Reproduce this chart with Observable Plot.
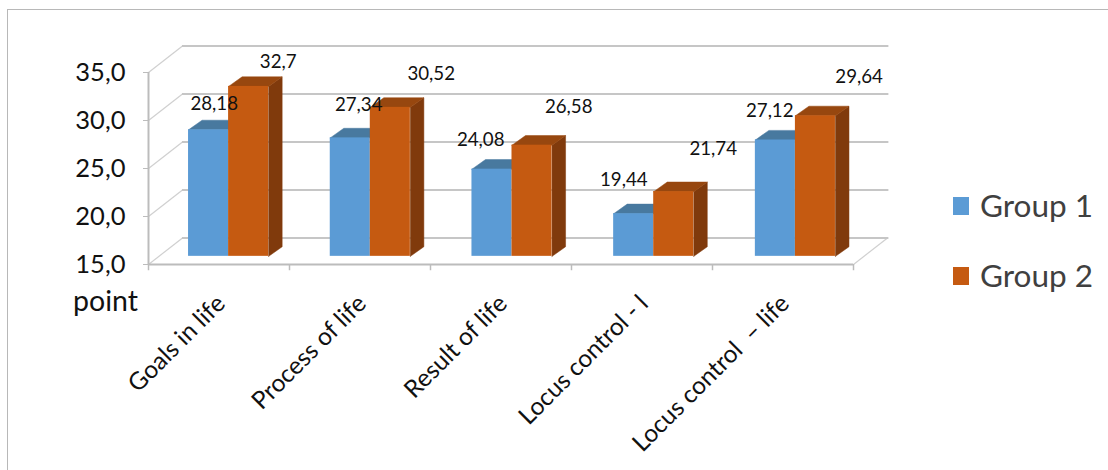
<!DOCTYPE html>
<html>
<head>
<meta charset="utf-8">
<script src="https://cdn.jsdelivr.net/npm/d3@7"></script>
<script src="https://cdn.jsdelivr.net/npm/@observablehq/plot@0.6"></script>
<style>
  html, body { margin: 0; padding: 0; background: #fff; }
  #chart { position: relative; width: 1108px; height: 470px; overflow: hidden; font-family: Lato, sans-serif; }
  #frame { position: absolute; left: 7px; top: 9px; width: 1200px; height: 600px; border: 1px solid #b8b8b8; }
  .key { position: absolute; left: 953px; display: flex; align-items: center; font-size: 31.5px; color: #404040; line-height: 1; }
  .key i { display: block; width: 16px; height: 18px; margin-right: 11px; }
</style>
</head>
<body>
<div id="chart"><div id="frame"></div></div>
<script>
const categories = ["Goals in life", "Process of life", "Result of life", "Locus control - l", "Locus control  – life"];
const group1 = [28.18, 27.34, 24.08, 19.44, 27.12];
const group2 = [32.7, 30.52, 26.58, 21.74, 29.64];
const yTicks = [15, 20, 25, 30, 35];

// Hand-placed data labels: shift from the top centre of each bar, in axis units.
const shiftX1 = [0.04, 0.06, -0.08, -0.07, -0.04];
const shiftY1 = [2.7, 3.45, 3.0, 3.55, 3.0];
const shiftX2 = [0.21, 0.29, 0.26, 0.28, 0.31];
const shiftY2 = [2.5, 3.45, 3.95, 4.4, 4.05];

// Perspective of the pseudo-3D box and of each bar, in axis units.
const wallX = 0.241, wallY = 2.77;
const barX = 0.096, barY = 1.0;
const floorLift = 0.85;
const barStart = 0.284, barStep = 1.005, barWidth = 0.284;
const tickDrop = 0.65;

const colors = {
  g1: "#5b9bd5", g1Top: "#48799f",
  g2: "#c55a11", g2Top: "#97470f", g2Side: "#803a0c",
  grid: "#c6c6c6", wall: "#d0d0d0", axis: "#bcbcbc", text: "#111"
};

const bars = (values, offset) => values.map((v, i) => {
  const x1 = i * barStep + barStart + offset * barWidth;
  return {x1, x2: x1 + barWidth, y1: 15 + floorLift, y2: v + floorLift};
});
const bars1 = bars(group1, 0);
const bars2 = bars(group2, 1);

// Each polygon is one closed run of points, grouped by id.
const topFace = rows => rows.flatMap((b, id) => [
  {id, x: b.x1, y: b.y2},
  {id, x: b.x1 + barX, y: b.y2 + barY},
  {id, x: b.x2 + barX, y: b.y2 + barY},
  {id, x: b.x2, y: b.y2},
  {id, x: b.x1, y: b.y2}
]);
const sideFace = rows => rows.flatMap((b, id) => [
  {id, x: b.x2, y: b.y1},
  {id, x: b.x2 + barX, y: b.y1 + barY},
  {id, x: b.x2 + barX, y: b.y2 + barY},
  {id, x: b.x2, y: b.y2},
  {id, x: b.x2, y: b.y1}
]);
const face = (points, fill) => Plot.line(points, {x: "x", y: "y", z: "id", fill, stroke: fill, strokeWidth: 0.5, curve: "linear"});

const xEnd = categories.length;
const wallLines = yTicks.map(v => ({x1: 0, y1: v, x2: wallX, y2: v + wallY}));
const backLines = yTicks.map(v => ({x1: wallX, x2: xEnd + wallX + 0.01, y: v + wallY}));
const tickPositions = d3.range(0, xEnd + 1);

const labels = [
  ...group1.map((v, i) => ({v, x: bars1[i].x1 + barWidth / 2 + shiftX1[i], y: v + floorLift + shiftY1[i]})),
  ...group2.map((v, i) => ({v, x: bars2[i].x1 + barWidth / 2 + shiftX2[i], y: v + floorLift + shiftY2[i]}))
];

const chart = Plot.plot({
  width: 1108,
  height: 470,
  marginLeft: 148,
  marginRight: 255,
  marginTop: 72,
  marginBottom: 206,
  style: {background: "transparent", fontFamily: "Lato, sans-serif", overflow: "visible"},
  x: {type: "linear", domain: [0, xEnd], axis: null},
  y: {type: "linear", domain: [15, 35], axis: null},
  marks: [
    // side wall and floor edges
    Plot.link(wallLines, {x1: "x1", y1: "y1", x2: "x2", y2: "y2", stroke: colors.wall, strokeWidth: 1.2}),
    Plot.link([{x1: xEnd, y1: 15, x2: xEnd + wallX, y2: 15 + wallY}], {x1: "x1", y1: "y1", x2: "x2", y2: "y2", stroke: colors.wall, strokeWidth: 1.2}),
    // back wall gridlines
    Plot.ruleY(backLines, {y: "y", x1: "x1", x2: "x2", stroke: colors.grid, strokeWidth: 2}),
    // front axes
    Plot.ruleX([0], {y1: 15, y2: 35, stroke: colors.axis, strokeWidth: 2}),
    Plot.ruleY([15], {x1: 0, x2: xEnd, stroke: colors.axis, strokeWidth: 2}),
    Plot.ruleX(tickPositions, {y1: 15, y2: 15 - tickDrop, stroke: colors.axis, strokeWidth: 1.5}),
    Plot.axisY({
      ticks: yTicks,
      tickSize: 5,
      tickPadding: 18,
      stroke: colors.axis,
      color: colors.text,
      fontSize: 25.5,
      tickFormat: d => d3.format(".1f")(d).replace(".", ","),
      label: null
    }),
    // bars: group 1 first so group 2 overlaps its depth
    face(topFace(bars1), colors.g1Top),
    Plot.rect(bars1, {x1: "x1", x2: "x2", y1: "y1", y2: "y2", fill: colors.g1}),
    face(sideFace(bars2), colors.g2Side),
    face(topFace(bars2), colors.g2Top),
    Plot.rect(bars2, {x1: "x1", x2: "x2", y1: "y1", y2: "y2", fill: colors.g2}),
    // value labels
    Plot.text(labels, {
      x: "x", y: "y",
      text: d => String(d.v).replace(".", ","),
      fontSize: 18.7, fill: colors.text
    }),
    // axis unit below the lowest tick
    Plot.text(["point"], {x: 0, y: 15, text: d => d, dx: -43, dy: 37, fontSize: 28.5, fill: colors.text}),
    // slanted category names
    Plot.text(categories, {
      x: (d, i) => i + 0.5,
      y: 15,
      text: d => d,
      rotate: -45,
      textAnchor: "end",
      dx: 2,
      dy: 35,
      fontSize: 24.5,
      fill: colors.text
    })
  ]
});
const root = document.getElementById("chart");
root.appendChild(chart);
chart.style.position = "absolute";
chart.style.left = "0";
chart.style.top = "0";

// Series key to the right of the plot
[["Group 1", colors.g1, 191], ["Group 2", colors.g2, 261]].forEach(([name, color, top]) => {
  const row = document.createElement("div");
  row.className = "key";
  row.style.top = top + "px";
  row.style.height = "30px";
  const swatch = document.createElement("i");
  swatch.style.background = color;
  row.appendChild(swatch);
  row.appendChild(document.createTextNode(name));
  root.appendChild(row);
});
</script>
</body>
</html>
